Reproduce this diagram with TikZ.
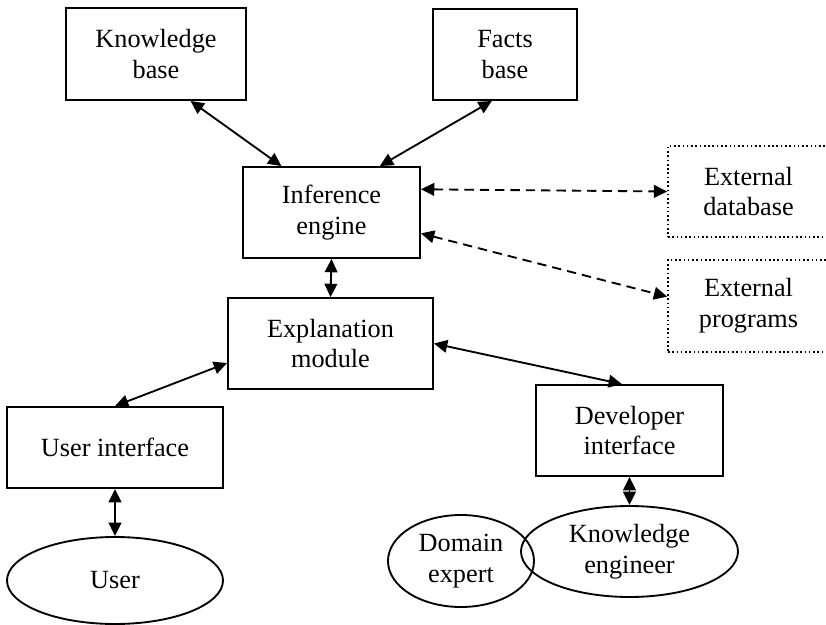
\documentclass[tikz,border=0pt]{standalone}
\usepackage{fontspec}
\setmainfont{Liberation Serif}
\usetikzlibrary{arrows.meta,shapes.geometric,calc}
\begin{document}
\begin{tikzpicture}[x=0.75pt,y=-0.75pt,
  font=\fontsize{19.7}{23}\selectfont,
  box/.style={draw,line width=1.4pt,align=center,inner sep=0pt},
  extbox/.style={draw,line width=1.2pt,dotted,align=center,inner sep=0pt},
  oval/.style={draw,ellipse,line width=1.4pt,align=center,inner sep=0pt},
  link/.style={line width=1.4pt,{Triangle[length=10pt,width=9.5pt]}-{Triangle[length=10pt,width=9.5pt]}},
  extlink/.style={link,dash pattern=on 7pt off 4.5pt}]
\useasboundingbox (0,0) rectangle (826,625);

% boxes
\node[box,minimum width=135pt,minimum height=69pt] (kb) at (156,54) {Knowledge\\base};
\node[box,minimum width=108pt,minimum height=68.25pt] (fb) at (505,54.5) {Facts\\base};
\node[box,minimum width=132.75pt,minimum height=68.25pt] (ie) at (331.5,212.5) {Inference\\engine};
\node[box,minimum width=153.75pt,minimum height=68.25pt] (em) at (330.5,343.5) {Explanation\\module};
\node[box,minimum width=162pt,minimum height=60.75pt] (ui) at (115,447.5) {User interface};
\node[box,minimum width=140.25pt,minimum height=68.25pt] (di) at (629.5,430.5) {Developer\\interface};
\node[extbox,minimum width=120.75pt,minimum height=68.25pt] (edb) at (748.5,191.5) {External\\database};
\node[extbox,minimum width=120.75pt,minimum height=69pt] (ep) at (748.5,306) {External\\programs};

% people
\node[oval,minimum width=162pt,minimum height=65.25pt] (user) at (115,580.5) {User};
\node[oval,minimum width=109.5pt,minimum height=69pt] (de) at (461,561) {Domain\\expert};
\node[oval,minimum width=162.75pt,minimum height=68.25pt] (ke) at (629.5,551.5) {Knowledge\\engineer};

% connectors
\draw[link] ($(kb.south west)!0.69!(kb.south east)$) -- ($(ie.north west)!0.22!(ie.north east)$);
\draw[link] ($(fb.south west)!0.41!(fb.south east)$) -- ($(ie.north west)!0.77!(ie.north east)$);
\draw[extlink] ($(ie.north east)!0.25!(ie.south east)$) -- (edb.west);
\draw[extlink] ($(ie.north east)!0.725!(ie.south east)$) -- ($(ep.north west)!0.4!(ep.south west)$);
\draw[link] (ie.south) -- (em.north);
\draw[link] ($(em.north west)!0.71!(em.south west)$) -- (ui.north);
\draw[link] (em.east) -- ($(di.north west)!0.46!(di.north east)$);
\draw[link] (di.south) -- (ke.north);
\draw[link] (ui.south) -- (user.north);
\end{tikzpicture}
\end{document}
